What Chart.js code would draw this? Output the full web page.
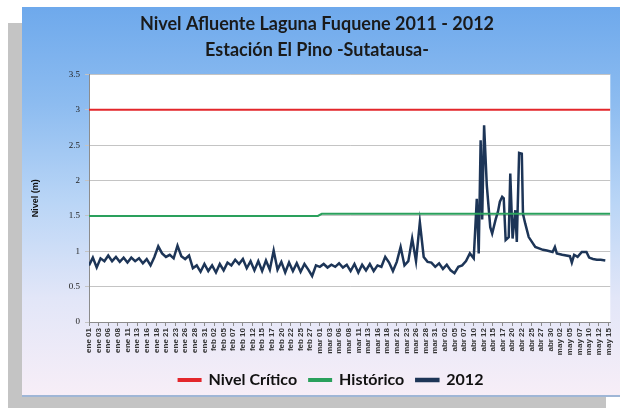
<!DOCTYPE html>
<html>
<head>
<meta charset="utf-8">
<script src="https://cdn.jsdelivr.net/npm/chart.js@4.4.1/dist/chart.umd.min.js"></script>
<style>
    body { margin: 0; background: #ffffff; }
    #sombra { position: absolute; left: 8px; top: 23px; width: 598px; height: 385px; background: #c4c4c4; }
    #panel {
        position: absolute; left: 22px; top: 7px; width: 598px; height: 388px;
        background: linear-gradient(180deg, #6ea9ec 0%, #8dbcf0 25%, #b9d5f6 50%, #e2e6f8 75%, #f7eef7 100%);
        border-bottom: 2px solid #9fb6d6;
    }
</style>
</head>
<body>
<div id="sombra"></div>
<div id="panel"><canvas id="nivelChart"></canvas></div>
<script>
// Etiquetas del eje x (una cada 2.5 dias desde el 1 de enero)
const etiquetasX = [
    'ene 01','ene 03','ene 06','ene 08','ene 11','ene 13','ene 16','ene 18','ene 21','ene 23','ene 26','ene 28','ene 31',
    'feb 02','feb 05','feb 07','feb 10','feb 12','feb 15','feb 17','feb 20','feb 22','feb 25','feb 27',
    'mar 01','mar 03','mar 06','mar 08','mar 11','mar 13','mar 16','mar 18','mar 21','mar 23','mar 26','mar 28','mar 31',
    'abr 02','abr 05','abr 07','abr 10','abr 12','abr 15','abr 17','abr 20','abr 22','abr 25','abr 27','abr 30',
    'may 02','may 05','may 07','may 10','may 12','may 15'
];

// Nivel 2012, un valor por dia (dia 0 = ene 01 ... dia 100 = abr 10)
const nivelDiario = [
    0.80, 0.91, 0.77, 0.90, 0.86, 0.94, 0.86, 0.92, 0.85, 0.91,
    0.84, 0.91, 0.86, 0.90, 0.83, 0.89, 0.80, 0.92, 1.07, 0.97,
    0.92, 0.95, 0.90, 1.08, 0.93, 0.89, 0.94, 0.76, 0.80, 0.71,
    0.82, 0.72, 0.80, 0.70, 0.82, 0.73, 0.84, 0.80, 0.88, 0.82,
    0.89, 0.76, 0.86, 0.73, 0.86, 0.72, 0.87, 0.74, 1.01, 0.74,
    0.85, 0.70, 0.84, 0.72, 0.83, 0.71, 0.82, 0.74, 0.65, 0.80,
    0.78, 0.82, 0.77, 0.81, 0.78, 0.83, 0.77, 0.81, 0.72, 0.82,
    0.70, 0.81, 0.73, 0.82, 0.72, 0.80, 0.78, 0.92, 0.84, 0.72,
    0.85, 1.06, 0.80, 0.86, 1.18, 0.86, 1.41, 0.92, 0.85, 0.84,
    0.78, 0.83, 0.75, 0.81, 0.73, 0.69, 0.78, 0.80, 0.86, 0.97,
    0.90
];

// Nivel 2012 desde abril 10, con mas detalle en las crecientes
const diasAbrMay = [
    100.8, 101.3, 101.8, 102.2, 102.7, 103.4, 104.3, 104.8, 105.7, 106.3,
    106.8, 107.4, 107.8, 108.3, 109.1, 109.5, 110.1, 110.8, 111.2, 111.8,
    112.5, 112.8, 113.4, 114.3, 116, 118, 119, 120.5, 121.1, 121.6,
    123, 125, 125.5, 126.1, 127, 128.1, 129.3, 130, 131, 132, 133, 134.2
];
const nivelAbrMay = [
    1.74, 0.97, 2.57, 1.45, 2.78, 1.93, 1.34, 1.25, 1.45, 1.56,
    1.70, 1.77, 1.75, 1.16, 1.20, 2.10, 1.18, 1.58, 1.13, 2.39,
    2.38, 1.53, 1.39, 1.20, 1.06, 1.02, 1.01, 0.99, 1.06, 0.97,
    0.95, 0.93, 0.84, 0.95, 0.92, 0.99, 0.99, 0.91, 0.89, 0.88, 0.88, 0.87
];

// Nivel critico e historico
const diasCritico = [0, 135.5];
const nivelCritico = [3.0, 3.0];
const diasHistorico = [0, 59.5, 60.5, 135.5];
const nivelHistorico = [1.50, 1.50, 1.53, 1.53];

// Arma los puntos {x, y}
const toPoints = (xs, ys) => xs.map((x, i) => ({ x: x, y: ys[i] }));

let puntos2012 = nivelDiario.map((v, i) => ({ x: i, y: v }));
puntos2012 = puntos2012.concat(toPoints(diasAbrMay, nivelAbrMay));

const ctx = document.getElementById('nivelChart').getContext('2d');

const nivelChart = new Chart(ctx, {
    type: 'line',
    data: {
        datasets: [
            {
                label: 'Nivel Crítico',
                data: toPoints(diasCritico, nivelCritico),
                borderColor: '#e3262b',
                backgroundColor: '#e3262b',
                borderWidth: 2
            },
            {
                label: 'Histórico',
                data: toPoints(diasHistorico, nivelHistorico),
                borderColor: '#2aa05c',
                backgroundColor: '#2aa05c',
                borderWidth: 2
            },
            {
                label: '2012',
                data: puntos2012,
                borderColor: '#1d3557',
                backgroundColor: '#1d3557',
                borderWidth: 2.5
            }
        ]
    },
    options: {
        responsive: true,
        maintainAspectRatio: false,
        animation: false,
        elements: {
            point: { radius: 0 },
            line: { tension: 0 }
        },
        layout: {
            padding: { left: 0, right: 8, top: 0, bottom: 0 }
        },
        plugins: {
            title: {
                display: true,
                text: ['Nivel Afluente Laguna Fuquene 2011 - 2012', 'Estación El Pino -Sutatausa-'],
                color: '#1a1a1a',
                font: { family: 'Lato', size: 18, weight: 'bold', lineHeight: 1.4 },
                padding: { top: 5, bottom: 12 }
            },
            legend: {
                position: 'bottom',
                labels: {
                    color: '#111111',
                    font: { family: 'Lato', size: 16, weight: 'bold' },
                    boxWidth: 22,
                    boxHeight: 2,
                    padding: 12
                }
            },
            tooltip: { enabled: false }
        },
        scales: {
            x: {
                type: 'linear',
                min: 0,
                max: 135.5,
                afterBuildTicks: (scale) => {
                    scale.ticks = etiquetasX.map((_, i) => ({ value: i * 2.5 }));
                },
                afterFit: (scale) => { scale.height = 38; },
                ticks: {
                    autoSkip: false,
                    maxRotation: 90,
                    minRotation: 90,
                    padding: 2,
                    color: '#333333',
                    font: { family: 'Liberation Sans', size: 8, weight: 'bold' },
                    callback: (value, index) => etiquetasX[index]
                },
                grid: {
                    drawOnChartArea: false,
                    drawTicks: true,
                    tickLength: 4,
                    color: '#8c8c8c'
                },
                border: { color: '#8c8c8c' }
            },
            y: {
                min: 0,
                max: 3.5,
                afterFit: (scale) => { scale.width = 67; },
                ticks: {
                    stepSize: 0.5,
                    color: '#222222',
                    padding: 5,
                    font: { family: 'Liberation Serif', size: 9 },
                    callback: (value) => String(value)
                },
                title: {
                    display: true,
                    text: 'Nivel (m)',
                    color: '#111111',
                    font: { family: 'Liberation Sans', size: 9, weight: 'bold' },
                    padding: { top: 8, bottom: 0 }
                },
                grid: {
                    color: '#c4c4c4',
                    tickLength: 4
                },
                border: { color: '#8c8c8c' }
            }
        }
    },
    plugins: [{
        // Alto fijo de la leyenda y corrimiento a la derecha
        id: 'altoLeyenda',
        beforeInit: (chart) => {
            const fitOriginal = chart.legend.fit;
            chart.legend.fit = function () {
                fitOriginal.bind(chart.legend)();
                this.height = 35;
            };
        },
        afterLayout: (chart) => {
            chart.legend.left += 14;
            chart.legend.right += 14;
        }
    }, {
        // Fondo blanco del area de trazado
        id: 'fondoArea',
        beforeDraw: (chart) => {
            const a = chart.chartArea;
            chart.ctx.save();
            chart.ctx.fillStyle = '#ffffff';
            chart.ctx.fillRect(a.left, a.top, a.right - a.left, a.bottom - a.top);
            chart.ctx.restore();
        }
    }]
});
</script>
</body>
</html>
